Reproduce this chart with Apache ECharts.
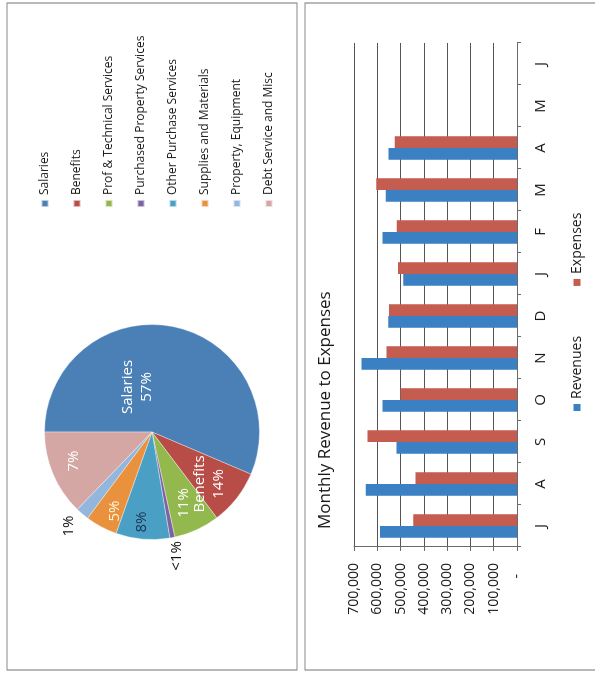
<!DOCTYPE html>
<html>
<head>
<meta charset="utf-8">
<script src="https://cdn.jsdelivr.net/npm/echarts@6/dist/echarts.min.js"></script>
<style>
  html, body { margin: 0; padding: 0; background: #ffffff; }
  body { width: 595px; height: 674px; overflow: hidden; position: relative; }
  /* The scanned page is rotated 90° counter-clockwise: draw the page upright, then rotate it. */
  #chart {
    position: absolute; left: 0; top: 0;
    width: 674px; height: 595px;
    transform-origin: 0 0;
    transform: translate(0px, 674px) rotate(-90deg);
  }
</style>
</head>
<body>
<div id="chart"></div>
<script>
// ---------- DATA ----------
const pieCategories = [
  'Salaries', 'Benefits', 'Prof & Technical Services', 'Purchased Property Services',
  'Other Purchase Services', 'Supplies and Materials', 'Property, Equipment', 'Debt Service and Misc'
];
// slice sizes (percent of the circle)
const pieValues = [56.5, 8.3, 6.9, 0.75, 8.1, 4.8, 2.0, 12.8];
// data labels exactly as printed on the chart
const pieLabels = ['Salaries\n57%', 'Benefits\n14%', '11%', '<1%', '8%', '5%', '1%', '7%'];

const months = ['J', 'A', 'S', 'O', 'N', 'D', 'J', 'F', 'M', 'A', 'M', 'J'];
const revenues = [588000, 650000, 517000, 578000, 668000, 553000, 488000, 578000, 564000, 552000, null, null];
const expenses = [446000, 436000, 642000, 500000, 560000, 550000, 511000, 516000, 604000, 525000, null, null];
const valueTickLabels = ['-   ', '100,000', '200,000', '300,000', '400,000', '500,000', '600,000', '700,000'];

// ---------- STYLE / LAYOUT ----------
const FONT = 'Open Sans';
const pieColors = ['#4a80b6', '#b84d48', '#93b84e', '#7b62a0', '#4aa0c4', '#ea913e', '#92b6dc', '#d5a7a4'];
const pieLabelColors = ['#ffffff', '#ffffff', '#ffffff', '#111111', '#1d3350', '#fff6dc', '#111111', '#ffffff'];
const pieCenter = [242, 152];
const pieRadius = 107.5;
// label anchor offsets from the pie centre (px)
const pieLabelOffsets = [[45, -15], [-52, 57], [-71, 32], [-124, 25], [-90, -10], [-79, -37], [-94, -83], [-29, -78]];

const chart = echarts.init(document.getElementById('chart'), null, { renderer: 'canvas' });

chart.setOption({
  animation: false,
  textStyle: { fontFamily: FONT },
  title: {
    text: 'Monthly Revenue to Expenses',
    left: 145, top: 317, padding: 0,
    textStyle: { fontFamily: FONT, fontSize: 17, fontWeight: 'normal', color: '#1a1a1a' }
  },
  graphic: [
    { type: 'rect', shape: { x: 4, y: 7, width: 667, height: 290 },
      style: { fill: 'none', stroke: '#8a8a8a', lineWidth: 1.2 }, silent: true },
    { type: 'rect', shape: { x: 4, y: 305, width: 667, height: 320 },
      style: { fill: 'none', stroke: '#8a8a8a', lineWidth: 1.2 }, silent: true }
  ],
  legend: [
    {
      data: pieCategories,
      orient: 'vertical',
      left: 466, top: 38,
      itemWidth: 7, itemHeight: 7, itemGap: 18,
      icon: 'rect',
      padding: 0,
      textStyle: { fontFamily: FONT, fontSize: 12, lineHeight: 14, color: '#1a1a1a' }
    },
    {
      data: ['Revenues', 'Expenses'],
      orient: 'horizontal',
      left: 263, top: 570,
      itemWidth: 7, itemHeight: 7, itemGap: 50,
      icon: 'rect',
      padding: 0,
      textStyle: { fontFamily: FONT, fontSize: 14, lineHeight: 14, color: '#1a1a1a' }
    }
  ],
  grid: { left: 127, top: 354, width: 504, height: 163, containLabel: false },
  xAxis: {
    type: 'category',
    data: months,
    axisLine: { show: true, lineStyle: { color: '#6a6a6a', width: 1 } },
    axisTick: { show: true, length: 4, lineStyle: { color: '#6a6a6a' } },
    axisLabel: { fontFamily: FONT, fontSize: 15, color: '#1a1a1a', margin: 16 },
    splitLine: { show: false }
  },
  yAxis: {
    type: 'value',
    min: 0, max: 700000, interval: 100000,
    axisLine: { show: true, lineStyle: { color: '#6a6a6a', width: 1 } },
    axisTick: { show: true, length: 4, lineStyle: { color: '#6a6a6a' } },
    axisLabel: {
      fontFamily: FONT, fontSize: 14, color: '#1a1a1a', margin: 16,
      formatter: v => valueTickLabels[Math.round(v / 100000)]
    },
    splitLine: { show: true, lineStyle: { color: '#555', width: 1 } }
  },
  series: [
    {
      name: 'Revenues', type: 'bar', data: revenues,
      barGap: '0%', barCategoryGap: '44%',
      itemStyle: { color: '#3a80c2' }
    },
    {
      name: 'Expenses', type: 'bar', data: expenses,
      barGap: '0%', barCategoryGap: '44%',
      itemStyle: { color: '#c45c4f' }
    },
    {
      name: 'Expenses by type', type: 'pie',
      center: pieCenter, radius: pieRadius,
      startAngle: 90, clockwise: true,
      avoidLabelOverlap: false,
      data: pieCategories.map((name, i) => ({
        name: name,
        value: pieValues[i],
        itemStyle: { color: pieColors[i] },
        label: { color: pieLabelColors[i] }
      })),
      itemStyle: { borderColor: 'rgba(255,255,255,0.6)', borderWidth: 0.6 },
      label: {
        show: true, position: 'inside',
        fontFamily: FONT, fontSize: 15, lineHeight: 19,
        formatter: p => pieLabels[p.dataIndex]
      },
      labelLine: { show: false },
      labelLayout: function (params) {
        const o = pieLabelOffsets[params.dataIndex];
        return { x: pieCenter[0] + o[0], y: pieCenter[1] + o[1], align: 'center', verticalAlign: 'middle' };
      }
    }
  ]
});
</script>
</body>
</html>
